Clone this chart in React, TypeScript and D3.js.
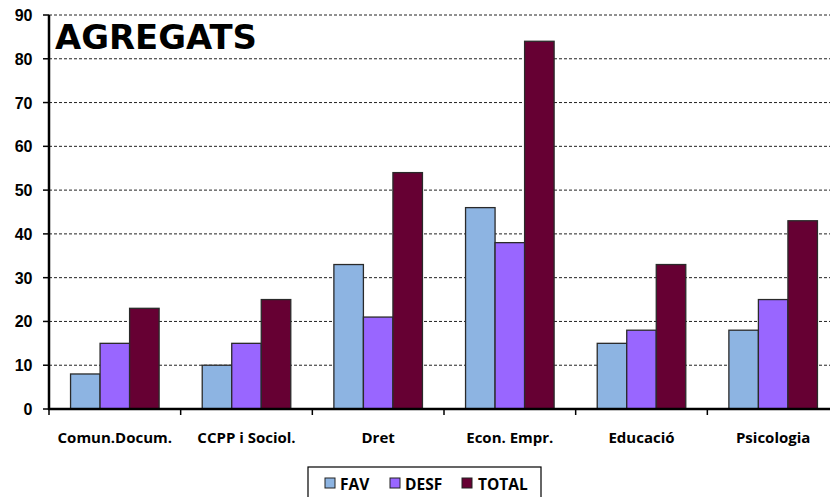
import React from "react";
import * as d3 from "d3";

const categories = ["Comun.Docum.", "CCPP i Sociol.", "Dret", "Econ. Empr.", "Educació", "Psicologia"];
const seriesNames = ["FAV", "DESF", "TOTAL"];
const fav = [8, 10, 33, 46, 15, 18];
const desf = [15, 15, 21, 38, 18, 25];
const total = [23, 25, 54, 84, 33, 43];
const colors = ["#8DB4E2", "#9966FF", "#660033"];
const yTicks = [0, 10, 20, 30, 40, 50, 60, 70, 80, 90];

export default function App() {
  const W = 830, H = 497;
  const left = 49, right = 839, top = 15, bottom = 409;
  const series = [fav, desf, total];
  const x = d3.scaleBand<string>().domain(categories).range([left, right]).paddingInner(0).paddingOuter(0);
  const inner = d3.scaleBand<string>().domain(seriesNames).range([0, x.bandwidth()]).paddingInner(0).paddingOuter(0.73);
  const y = d3.scaleLinear().domain([0, 90]).range([bottom, top]);
  const labelFont = "'Open Sans', 'Liberation Sans', sans-serif";
  const legendItems = [
    { name: "FAV", sx: 325, tx: 340 },
    { name: "DESF", sx: 390, tx: 405 },
    { name: "TOTAL", sx: 462, tx: 478 },
  ];
  return (
    <svg width={W} height={H} style={{ position: "absolute", left: 0, top: 0, background: "#fff" }}>
      {yTicks.slice(1).map((t) => (
        <line key={t} x1={left} x2={W} y1={y(t)} y2={y(t)} stroke="#222" strokeWidth={1} strokeDasharray="3,2" />
      ))}
      {series.map((vals, si) =>
        vals.map((v, ci) => (
          <rect
            key={si + "-" + ci}
            x={(x(categories[ci]) as number) + (inner(seriesNames[si]) as number)}
            y={y(v)}
            width={inner.bandwidth()}
            height={y(0) - y(v)}
            fill={colors[si]}
            stroke="#2a2a2a"
            strokeWidth={1.3}
          />
        ))
      )}
      <line x1={left} x2={left} y1={top} y2={bottom + 1} stroke="#000" strokeWidth={2.5} />
      <line x1={left - 1} x2={W} y1={bottom} y2={bottom} stroke="#000" strokeWidth={2.5} />
      {yTicks.map((t) => (
        <g key={t}>
          <line x1={left - 6} x2={left} y1={y(t)} y2={y(t)} stroke="#000" strokeWidth={1.5} />
          <text x={32.5} y={y(t) + 6} textAnchor="end" fontFamily="'Liberation Sans', Arial, sans-serif" fontWeight="bold" fontSize={16}>
            {t}
          </text>
        </g>
      ))}
      {categories.map((c, i) => (
        <g key={c}>
          <line x1={x(c) as number} x2={x(c) as number} y1={bottom} y2={bottom + 6} stroke="#000" strokeWidth={1.5} />
          <text x={(x(c) as number) + x.bandwidth() / 2} y={443} textAnchor="middle" fontFamily={labelFont} fontWeight="bold" fontSize={15}>
            {c}
          </text>
        </g>
      ))}
      <text x={55} y={49} fontFamily="'DejaVu Sans', sans-serif" fontWeight="bold" fontSize={34} textLength={202} lengthAdjust="spacingAndGlyphs">
        AGREGATS
      </text>
      <rect x={308} y={467} width={233} height={32} fill="#fff" stroke="#000" strokeWidth={1.2} />
      {legendItems.map((it, i) => (
        <g key={it.name}>
          <rect x={it.sx} y={478} width={10} height={10} fill={colors[i]} stroke="#222" strokeWidth={1} />
          <text x={it.tx} y={489.5} fontFamily={labelFont} fontWeight="bold" fontSize={15.5}>
            {it.name}
          </text>
        </g>
      ))}
    </svg>
  );
}
